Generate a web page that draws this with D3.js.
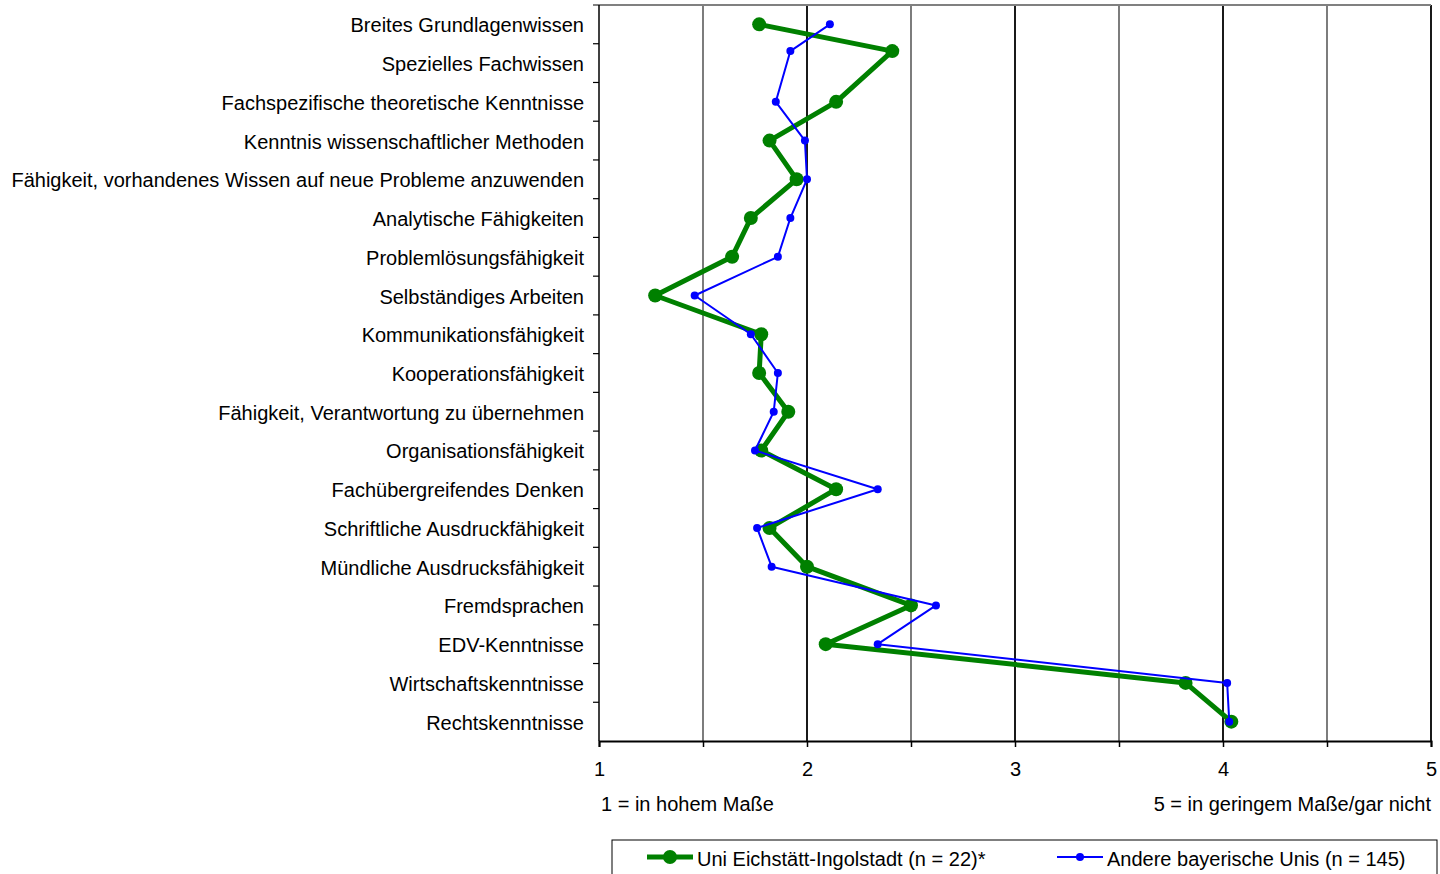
<!DOCTYPE html>
<html>
<head>
<meta charset="utf-8">
<script src="https://cdn.jsdelivr.net/npm/d3@7"></script>
<style>
  html, body { margin: 0; padding: 0; background: #fff; }
  svg { display: block; font-family: Arial, "Liberation Sans", sans-serif; }
</style>
</head>
<body>
<svg id="chart" width="1440" height="874"></svg>
<script>
// ---------- data ----------
const categories = [
  "Breites Grundlagenwissen",
  "Spezielles Fachwissen",
  "Fachspezifische theoretische Kenntnisse",
  "Kenntnis wissenschaftlicher Methoden",
  "Fähigkeit, vorhandenes Wissen auf neue Probleme anzuwenden",
  "Analytische Fähigkeiten",
  "Problemlösungsfähigkeit",
  "Selbständiges Arbeiten",
  "Kommunikationsfähigkeit",
  "Kooperationsfähigkeit",
  "Fähigkeit, Verantwortung zu übernehmen",
  "Organisationsfähigkeit",
  "Fachübergreifendes Denken",
  "Schriftliche Ausdruckfähigkeit",
  "Mündliche Ausdrucksfähigkeit",
  "Fremdsprachen",
  "EDV-Kenntnisse",
  "Wirtschaftskenntnisse",
  "Rechtskenntnisse"
];
// vertical position of each point in category units (0 = top row); row 2 sits higher in the original
const pointRows = [0, 0.69, 2, 3, 4, 5, 6, 7, 8, 9, 10, 11, 12, 13, 14, 15, 16, 17, 18];
const seriesEichstaett = [1.77, 2.41, 2.14, 1.82, 1.95, 1.73, 1.64, 1.27, 1.78, 1.77, 1.91, 1.78, 2.14, 1.82, 2.00, 2.50, 2.09, 3.82, 4.04];
const seriesAndere     = [2.11, 1.92, 1.85, 1.99, 2.00, 1.92, 1.86, 1.46, 1.73, 1.86, 1.84, 1.75, 2.34, 1.76, 1.83, 2.62, 2.34, 4.02, 4.03];
const seriesNames = ["Uni Eichstätt-Ingolstadt (n = 22)*", "Andere bayerische Unis (n = 145)"];
const xTicks = [1, 2, 3, 4, 5];
const xGrid = [1.5, 2, 2.5, 3, 3.5, 4, 4.5, 5];
const scaleNoteLeft = "1 = in hohem Maße";
const scaleNoteRight = "5 = in geringem Maße/gar nicht";

// ---------- layout ----------
const svg = d3.select("#chart");
const plot = { left: 599, right: 1431, top: 5, bottom: 741 };
const FONT = 20;

const x = d3.scaleLinear().domain([1, 5]).range([plot.left, plot.right]);
const yBand = d3.scaleLinear().domain([0, categories.length]).range([plot.top, plot.bottom]);
const yRow = r => yBand(r + 0.5);

// gridlines
svg.append("g").selectAll("line").data(xGrid).join("line")
  .attr("x1", d => x(d)).attr("x2", d => x(d))
  .attr("y1", plot.top).attr("y2", plot.bottom)
  .attr("stroke", d => Number.isInteger(d) ? "#000" : "#111")
  .attr("stroke-width", d => Number.isInteger(d) ? 1.8 : 1.1);

// top border
svg.append("line")
  .attr("x1", plot.left - 6).attr("x2", plot.right)
  .attr("y1", plot.top).attr("y2", plot.top)
  .attr("stroke", "#808080").attr("stroke-width", 2);

// left axis with ticks at category boundaries
const yAxisG = svg.append("g");
yAxisG.append("line")
  .attr("x1", plot.left).attr("x2", plot.left)
  .attr("y1", plot.top).attr("y2", plot.bottom)
  .attr("stroke", "#000").attr("stroke-width", 1.5);
yAxisG.selectAll("line.tick").data(d3.range(1, categories.length)).join("line")
  .attr("class", "tick")
  .attr("x1", plot.left - 6).attr("x2", plot.left)
  .attr("y1", d => yBand(d)).attr("y2", d => yBand(d))
  .attr("stroke", "#000").attr("stroke-width", 1.2);
yAxisG.selectAll("text").data(categories).join("text")
  .attr("x", plot.left - 15)
  .attr("y", (d, i) => yRow(i) + 1)
  .attr("dy", "0.35em")
  .attr("text-anchor", "end")
  .attr("font-size", FONT)
  .attr("fill", "#000")
  .text(d => d);

// bottom axis
const xAxis = d3.axisBottom(x)
  .tickValues(d3.range(1, 5.01, 0.5))
  .tickSize(6)
  .tickFormat(d => Number.isInteger(d) ? d3.format("d")(d) : "");
const xAxisG = svg.append("g")
  .attr("transform", `translate(0,${plot.bottom})`)
  .call(xAxis);
xAxisG.select(".domain").attr("stroke", "#000").attr("stroke-width", 2);
xAxisG.selectAll(".tick line").attr("stroke", "#000").attr("stroke-width", 1.5);
xAxisG.selectAll(".tick text")
  .attr("font-size", FONT).attr("font-family", "Arial, 'Liberation Sans', sans-serif")
  .attr("fill", "#000").attr("y", 21);

// scale notes
svg.append("text").attr("x", x(1) + 2).attr("y", 811)
  .attr("font-size", FONT).attr("fill", "#000").text(scaleNoteLeft);
svg.append("text").attr("x", x(5)).attr("y", 811).attr("text-anchor", "end")
  .attr("font-size", FONT).attr("fill", "#000").text(scaleNoteRight);

// series
const line = d3.line().x(d => x(d.v)).y(d => yRow(d.r));
const series = [
  { name: seriesNames[0], values: seriesEichstaett, color: "#008000", width: 5, r: 7 },
  { name: seriesNames[1], values: seriesAndere, color: "#0000FF", width: 2, r: 4 }
];
series.forEach(s => {
  const pts = s.values.map((v, i) => ({ v, r: pointRows[i] }));
  svg.append("path").datum(pts)
    .attr("d", line)
    .attr("fill", "none")
    .attr("stroke", s.color)
    .attr("stroke-width", s.width)
    .attr("stroke-linejoin", "round");
  svg.append("g").selectAll("circle").data(pts).join("circle")
    .attr("cx", d => x(d.v)).attr("cy", d => yRow(d.r))
    .attr("r", s.r).attr("fill", s.color);
});

// legend
const legend = svg.append("g");
legend.append("rect")
  .attr("x", 612).attr("y", 840).attr("width", 825).attr("height", 50)
  .attr("fill", "#fff").attr("stroke", "#000").attr("stroke-width", 1);
const legendItems = [
  { s: series[0], x0: 647 },
  { s: series[1], x0: 1057 }
];
legendItems.forEach(li => {
  legend.append("line")
    .attr("x1", li.x0).attr("x2", li.x0 + 46)
    .attr("y1", 857).attr("y2", 857)
    .attr("stroke", li.s.color).attr("stroke-width", li.s.width);
  legend.append("circle")
    .attr("cx", li.x0 + 23).attr("cy", 857).attr("r", li.s.r).attr("fill", li.s.color);
  legend.append("text")
    .attr("x", li.x0 + 50).attr("y", 859).attr("dy", "0.35em")
    .attr("font-size", FONT).attr("fill", "#000").text(li.s.name);
});
</script>
</body>
</html>
